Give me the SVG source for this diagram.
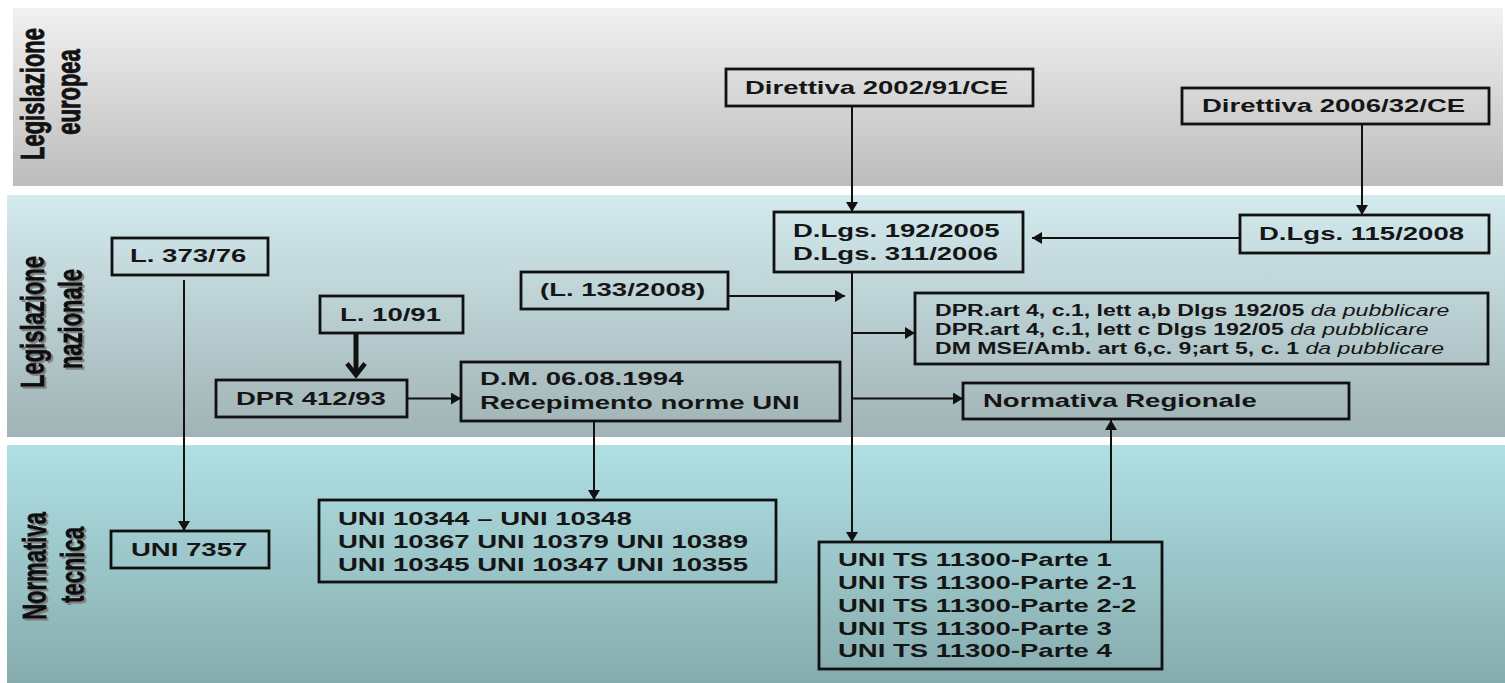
<svg xmlns="http://www.w3.org/2000/svg" width="1505" height="683" viewBox="0 0 1505 683">
  <style>
    .box { fill: none; stroke: #111; stroke-width: 2.8; }
    .t { font-family: "Liberation Sans", Arial, sans-serif; font-weight: bold; font-size: 18.6px; fill: #151515; }
    .s { font-family: "Liberation Sans", Arial, sans-serif; font-weight: bold; font-size: 15.6px; fill: #151515; }
    .it { font-weight: normal; font-style: italic; }
    .side { font-family: "Liberation Sans", Arial, sans-serif; font-weight: bold; font-size: 22px; fill: #111; stroke: #111; stroke-width: 0.6; text-anchor: middle; }
    .c { fill: none; stroke: #111; stroke-width: 2; }
  </style>
  <defs>
    <linearGradient id="g1" x1="0" y1="0" x2="0" y2="1">
      <stop offset="0" stop-color="#f1f1f1"/>
      <stop offset="1" stop-color="#bcbcbc"/>
    </linearGradient>
    <linearGradient id="g2" x1="0" y1="0" x2="0" y2="1">
      <stop offset="0" stop-color="#d3eaee"/>
      <stop offset="1" stop-color="#a0b3b5"/>
    </linearGradient>
    <linearGradient id="g3" x1="0" y1="0" x2="0" y2="1">
      <stop offset="0" stop-color="#b0e0e4"/>
      <stop offset="1" stop-color="#86abad"/>
    </linearGradient>
    <filter id="sh" x="-20%" y="-20%" width="140%" height="140%">
      <feDropShadow dx="2" dy="2" stdDeviation="0.6" flood-color="#7a7a7a" flood-opacity="0.9"/>
    </filter>
    <marker id="ah" viewBox="0 0 10 12" refX="10" refY="6" markerWidth="10" markerHeight="12" markerUnits="userSpaceOnUse" orient="auto">
      <path d="M0,0 L10,6 L0,12 z" fill="#111"/>
    </marker>
  </defs>

  <rect width="1505" height="683" fill="#ffffff"/>

  <g id="bands">
    <rect x="13" y="8" width="1490" height="178" fill="url(#g1)"/>
    <rect x="7" y="195" width="1498" height="242" fill="url(#g2)"/>
    <rect x="7" y="445" width="1498" height="238" fill="url(#g3)"/>
  </g>

  <g id="labels">
    <text class="side" transform="translate(44,94) scale(1.48,1) rotate(-90)">Legislazione</text>
    <text class="side" transform="translate(80,92) scale(1.48,1) rotate(-90)">europea</text>
    <g filter="url(#sh)">
      <text class="side" transform="translate(44,322) scale(1.48,1) rotate(-90)">Legislazione</text>
      <text class="side" transform="translate(82,319) scale(1.48,1) rotate(-90)">nazionale</text>
      <text class="side" transform="translate(46,566) scale(1.48,1) rotate(-90)">Normativa</text>
      <text class="side" transform="translate(84,565) scale(1.48,1) rotate(-90)">tecnica</text>
    </g>
  </g>

  <g id="connectors">
    <line class="c" x1="852" y1="106" x2="852" y2="212" marker-end="url(#ah)"/>
    <line class="c" x1="1362" y1="124" x2="1362" y2="215" marker-end="url(#ah)"/>
    <line class="c" x1="1240" y1="238" x2="1032" y2="238" marker-end="url(#ah)"/>
    <line class="c" x1="852" y1="273" x2="852" y2="542" marker-end="url(#ah)"/>
    <line class="c" x1="728" y1="296" x2="845" y2="296" marker-end="url(#ah)"/>
    <line class="c" x1="852" y1="333" x2="915" y2="333" marker-end="url(#ah)"/>
    <line class="c" x1="852" y1="398.5" x2="963" y2="398.5" marker-end="url(#ah)"/>
    <line class="c" x1="1111" y1="542" x2="1111" y2="420" marker-end="url(#ah)"/>
    <line class="c" x1="407" y1="398.5" x2="461" y2="398.5" marker-end="url(#ah)"/>
    <line class="c" x1="594" y1="421" x2="594" y2="500" marker-end="url(#ah)"/>
    <line class="c" x1="184" y1="280" x2="184" y2="531" marker-end="url(#ah)"/>
    <line x1="356" y1="333" x2="356" y2="373" stroke="#111" stroke-width="5"/>
    <polyline points="347,363.5 356,375 365,363.5" fill="none" stroke="#111" stroke-width="4.5"/>
  </g>

  <g id="dir2002">
    <rect class="box" x="726" y="69" width="307" height="37"/>
    <text class="t" transform="translate(745,94) scale(1.48,1)">Direttiva 2002/91/CE</text>
  </g>
  <g id="dir2006">
    <rect class="box" x="1182" y="88" width="307" height="36"/>
    <text class="t" transform="translate(1202,112) scale(1.48,1)">Direttiva 2006/32/CE</text>
  </g>
  <g id="dlgs192">
    <rect class="box" x="774" y="212" width="249" height="60"/>
    <text class="t" transform="translate(793,236.5) scale(1.48,1)">D.Lgs. 192/2005</text>
    <text class="t" transform="translate(793,260) scale(1.48,1)">D.Lgs. 311/2006</text>
  </g>
  <g id="dlgs115">
    <rect class="box" x="1240" y="215" width="249" height="38"/>
    <text class="t" transform="translate(1259,240) scale(1.48,1)">D.Lgs. 115/2008</text>
  </g>
  <g id="l373">
    <rect class="box" x="112" y="238" width="156" height="37"/>
    <text class="t" transform="translate(130,262) scale(1.48,1)">L. 373/76</text>
  </g>
  <g id="l133">
    <rect class="box" x="521" y="272" width="207" height="37"/>
    <text class="t" transform="translate(540,296) scale(1.48,1)">(L. 133/2008)</text>
  </g>
  <g id="l1091">
    <rect class="box" x="320" y="296" width="143" height="37"/>
    <text class="t" transform="translate(340,321) scale(1.48,1)">L. 10/91</text>
  </g>
  <g id="dpr412">
    <rect class="box" x="216" y="380" width="191" height="37"/>
    <text class="t" transform="translate(236,405) scale(1.48,1)">DPR 412/93</text>
  </g>
  <g id="dm1994">
    <rect class="box" x="461" y="362" width="379" height="59"/>
    <text class="t" transform="translate(480,385) scale(1.48,1)">D.M. 06.08.1994</text>
    <text class="t" transform="translate(480,409) scale(1.48,1)">Recepimento norme UNI</text>
  </g>
  <g id="dpr-art">
    <rect class="box" x="915" y="293" width="573" height="71"/>
    <text class="s" transform="translate(935,315.5) scale(1.48,1)">DPR.art 4, c.1, lett a,b Dlgs 192/05 <tspan class="it">da pubblicare</tspan></text>
    <text class="s" transform="translate(935,335) scale(1.48,1)">DPR.art 4, c.1, lett c Dlgs 192/05 <tspan class="it">da pubblicare</tspan></text>
    <text class="s" transform="translate(935,353.5) scale(1.48,1)">DM MSE/Amb. art 6,c. 9;art 5, c. 1 <tspan class="it">da pubblicare</tspan></text>
  </g>
  <g id="regionale">
    <rect class="box" x="963" y="383" width="386" height="36"/>
    <text class="t" transform="translate(983,407) scale(1.48,1)">Normativa Regionale</text>
  </g>
  <g id="uni7357">
    <rect class="box" x="111" y="531" width="158" height="37"/>
    <text class="t" transform="translate(131,556) scale(1.48,1)">UNI 7357</text>
  </g>
  <g id="uni10344">
    <rect class="box" x="319" y="500" width="457" height="82"/>
    <text class="t" transform="translate(338,525) scale(1.48,1)">UNI 10344 – UNI 10348</text>
    <text class="t" transform="translate(338,548) scale(1.48,1)">UNI 10367 UNI 10379 UNI 10389</text>
    <text class="t" transform="translate(338,571) scale(1.48,1)">UNI 10345 UNI 10347 UNI 10355</text>
  </g>
  <g id="units11300">
    <rect class="box" x="819" y="542" width="343" height="127"/>
    <text class="t" transform="translate(838,566) scale(1.48,1)">UNI TS 11300-Parte 1</text>
    <text class="t" transform="translate(838,589) scale(1.48,1)">UNI TS 11300-Parte 2-1</text>
    <text class="t" transform="translate(838,612) scale(1.48,1)">UNI TS 11300-Parte 2-2</text>
    <text class="t" transform="translate(838,634.5) scale(1.48,1)">UNI TS 11300-Parte 3</text>
    <text class="t" transform="translate(838,657) scale(1.48,1)">UNI TS 11300-Parte 4</text>
  </g>
</svg>
